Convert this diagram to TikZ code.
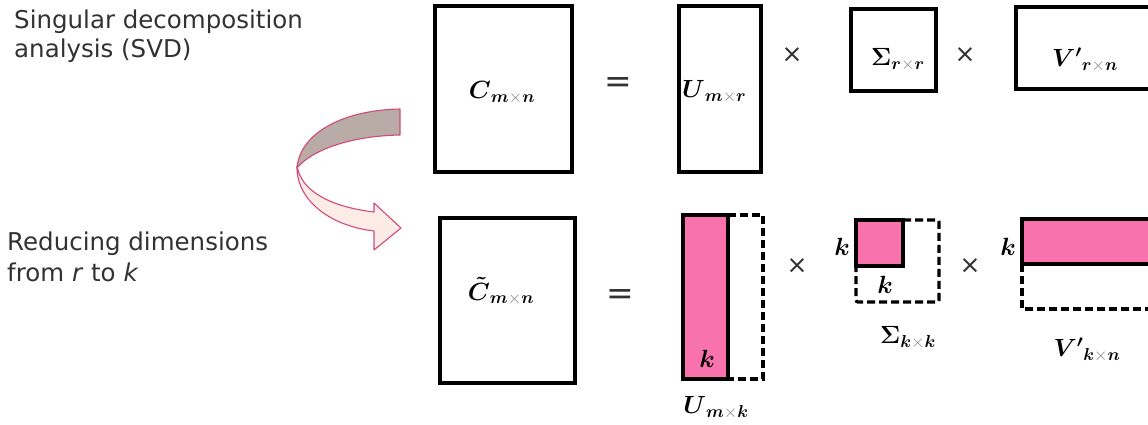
\documentclass[tikz,border=0pt]{standalone}
\usepackage{fontspec}
\usepackage{amsmath}
\setsansfont{DejaVu Sans}
\definecolor{mpink}{RGB}{248,114,174}
\definecolor{txtgray}{RGB}{50,50,50}
\definecolor{arrline}{RGB}{210,74,124}
\definecolor{arrtop}{RGB}{185,172,166}
\definecolor{arrbot}{RGB}{253,235,230}
\tikzset{
  mat/.style={draw=black, line width=3.6pt, inner sep=0pt, outer sep=0pt, minimum width=#1},
  pinkmat/.style={mat=#1, fill=mpink},
  dashbox/.style={draw=black, line width=3.2pt, dash pattern=on 8pt off 4pt},
  lbl/.style={inner sep=0pt, font=\fontsize{24}{28}\selectfont},
  op/.style={inner sep=0pt, font=\sffamily\fontsize{25}{30}\selectfont, text=txtgray},
  eqs/.style={inner sep=0pt, font=\sffamily\fontsize{33}{36}\selectfont, text=txtgray},
  desc/.style={inner sep=0pt, anchor=base west, font=\sffamily\fontsize{24.5}{30}\selectfont, text=txtgray},
  kl/.style={inner sep=0pt, font=\fontsize{23}{28}\selectfont}
}
\newcommand{\bx}[1]{\boldsymbol{#1}}
\newcommand{\tms}{\mathbin{\textcolor{gray}{\times}}}
\begin{document}
\begin{tikzpicture}[x=1pt,y=-1pt]
\useasboundingbox (0,0) rectangle (1148,425);
\clip (0,0) rectangle (1148,425);
% descriptions
\node[desc] (svd1) at (14,29) {Singular decomposition};
\node[desc] (svd2) at (14,58) {analysis (SVD)};
\node[desc] (red1) at (7,250) {Reducing dimensions};
\node[desc] (red2) at (7,281) {from \textit{r} to \textit{k}};
% curved arrow
\draw[arrline, line width=1.1pt, fill=arrbot, line join=round]
  (297,166) .. controls (296,200) and (330,226) .. (374,231)
  -- (374,250) -- (401,228) -- (374,203) -- (374,212)
  .. controls (340,208) and (305,196) .. (298,170) -- cycle;
\draw[arrline, line width=1.1pt, fill=arrtop, line join=round]
  (400,109) .. controls (345,110) and (300,132) .. (297,168)
  .. controls (312,150) and (350,136) .. (400,135) -- cycle;
% top row
\node[mat=137pt, minimum height=166pt] (C) at (503.5,89) {};
\node[lbl] (Cl) at (502,93) {$\bx{C}_{\bx{m}\tms\bx{n}}$};
\node[eqs] (eq1) at (618,85) {=};
\node[mat=82pt, minimum height=166pt] (U) at (720,89) {};
\node[lbl, anchor=west] (Ul) at (682,92) {$\bx{U}_{\bx{m}\tms\bx{r}}$};
\node[op] (x1) at (792,55) {×};
\node[mat=85pt, minimum height=82pt] (S) at (893.5,50) {};
\node[lbl] (Sl) at (898,60) {$\bx{\Sigma}_{\bx{r}\tms\bx{r}}$};
\node[op] (x2) at (965,55) {×};
\node[mat=164pt, minimum height=82pt] (V) at (1098,48) {};
\node[lbl] (Vl) at (1085,60) {$\bx{V'}_{\bx{r}\tms\bx{n}}$};
% bottom row
\node[mat=135pt, minimum height=165pt] (Ct) at (507.5,300.5) {};
\node[lbl] (Ctl) at (501,291) {$\bx{\tilde{C}}_{\bx{m}\tms\bx{n}}$};
\node[eqs] (eq2) at (620,297) {=};
\node[pinkmat=45pt, minimum height=164pt] (Uk) at (705.5,297) {};
\coordinate (ua) at (763,215);
\coordinate (ub) at (763,379);
\draw[dashbox] (Uk.north east) -- (ua) -- (ub) -- (Uk.south east);
\node[kl] (k1) at (707,359) {$\bx{k}$};
\node[lbl] (Ukl) at (716,408) {$\bx{U}_{\bx{m}\tms\bx{k}}$};
\node[op] (x3) at (797,266) {×};
\node[pinkmat=47pt, minimum height=46pt] (Sk) at (879.5,243) {};
\coordinate (sa) at (939,220);
\coordinate (sb) at (939,302);
\coordinate (sc) at (856,302);
\draw[dashbox, rounded corners=2pt] (Sk.north east) -- (sa) -- (sb) -- (sc) -- (Sk.south west);
\node[kl] (k2) at (842,247) {$\bx{k}$};
\node[kl] (k3) at (885,285) {$\bx{k}$};
\node[lbl] (Skl) at (908,338) {$\bx{\Sigma}_{\bx{k}\tms\bx{k}}$};
\node[op] (x4) at (970,266) {×};
\node[pinkmat=158pt, minimum height=45pt] (Vk) at (1101,241.5) {};
\coordinate (va) at (1022,309);
\coordinate (vb) at (1180,309);
\draw[dashbox] (Vk.south west) -- (va) -- (vb);
\node[kl] (k4) at (1008,247) {$\bx{k}$};
\node[lbl] (Vkl) at (1087,350) {$\bx{V'}_{\bx{k}\tms\bx{n}}$};
\end{tikzpicture}
\end{document}
